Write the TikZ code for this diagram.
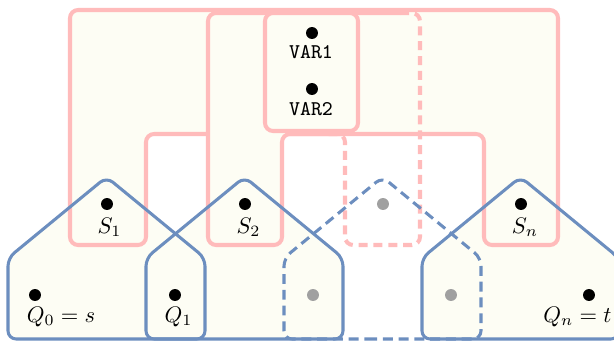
\documentclass[tikz,border=0pt]{standalone}
\definecolor{bagpink}{RGB}{255,187,187}
\definecolor{housblue}{RGB}{108,142,191}
\definecolor{paleyel}{RGB}{253,253,244}
\definecolor{dotgray}{RGB}{160,160,160}
\begin{document}
\begin{tikzpicture}[x=0.444pt,y=-0.444pt,
  pinkline/.style={draw=bagpink,line width=1.8pt,rounded corners=3.6pt},
  blueline/.style={draw=housblue,line width=1.35pt,rounded corners=3.6pt,line join=round},
  dashpink/.style={pinkline,dash pattern=on 4pt off 2.6pt},
  dashblue/.style={blueline,dash pattern=on 4.4pt off 2.6pt},
  vdot/.style={circle,fill=black,inner sep=0pt,minimum size=5.3pt},
  gdot/.style={vdot,fill=dotgray},
  lbl/.style={inner sep=0pt,anchor=base},
  varlbl/.style={lbl,font=\fontsize{9.3}{11}\selectfont\ttfamily}]
\useasboundingbox (0,0) rectangle (614,341);
\clip (0,0) rectangle (614,341);
% house fills
\foreach \L in {8,146,422}{
  \fill[paleyel,rounded corners=3.6pt] ({\L+98.5},339) -- (\L,339) -- (\L,258) -- ({\L+98.5},177) -- ({\L+197},258) -- ({\L+197},339) -- cycle;
}
% pink bag 1 (outer inverted U)
\draw[pinkline,fill=paleyel] (300,10) -- (558,10) -- (558,245) -- (484,245) -- (484,134) -- (146,134) -- (146,245) -- (70,245) -- (70,10) -- cycle;
% pink bag 2 (fill of the visible part)
\fill[paleyel,rounded corners=3.6pt] (208,13) -- (345,13) -- (345,134) -- (282,134) -- (282,245) -- (208,245) -- cycle;
\draw[pinkline] (345,134) -- (282,134) -- (282,245) -- (208,245) -- (208,13) -- (400,13);
\draw[dashpink] (400,13) -- (420,13) -- (420,245) -- (345,245) -- (345,134) -- (325,134);
% VAR box
\draw[pinkline,fill=paleyel] (265,13) rectangle (358,131);
% house outlines
\foreach \L/\st in {8/blueline,146/blueline,284/dashblue,422/blueline}{
  \draw[\st] ({\L+98.5},339) -- (\L,339) -- (\L,258) -- ({\L+98.5},177) -- ({\L+197},258) -- ({\L+197},339) -- cycle;
}
% VAR dots
\node[vdot] (v1) at (312,33) {};
\node[varlbl] (v1l) at (311,58) {VAR1};
\node[vdot] (v2) at (312,89) {};
\node[varlbl] (v2l) at (311,115) {VAR2};
% S dots
\node[vdot] (s1) at (107,204) {};
\node[lbl] (s1l) at (109.5,233) {$S_1$};
\node[vdot] (s2) at (245,204) {};
\node[lbl] (s2l) at (248.5,233) {$S_2$};
\node[gdot] (s3) at (383,204) {};
\node[vdot] (sn) at (521,204) {};
\node[lbl] (snl) at (525,233) {$S_n$};
% Q dots
\node[vdot] (q0) at (35,295) {};
\node[lbl] (q0l) at (61,322) {$Q_0 = s$};
\node[vdot] (q1) at (175,295) {};
\node[lbl] (q1l) at (178.5,322) {$Q_1$};
\node[gdot] (q2) at (313,295) {};
\node[gdot] (q3) at (451,295) {};
\node[vdot] (qn) at (589,295) {};
\node[lbl] (qnl) at (577.5,322) {$Q_n = t$};
\end{tikzpicture}
\end{document}
